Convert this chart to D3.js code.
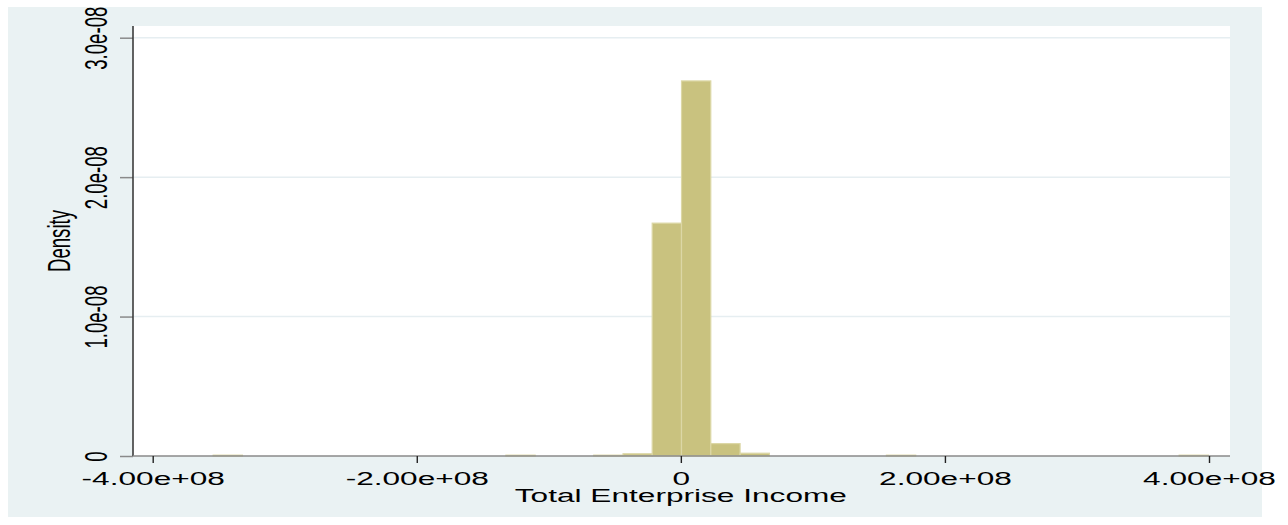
<!DOCTYPE html>
<html>
<head>
<meta charset="utf-8">
<script src="https://cdn.jsdelivr.net/npm/d3@7"></script>
<style>
  html, body { margin: 0; padding: 0; background: #ffffff; }
  svg { display: block; }
  text { font-family: "Liberation Sans", Arial, Helvetica, sans-serif; fill: #000; }
</style>
</head>
<body>
<svg id="chart" width="1288" height="525"></svg>
<script>
// Histogram of total enterprise income: lower bin edges (in 1e6 units), common bin width, densities (in 1e-8 units)
const binLowerM = [-354.2, -332.0, -309.9, -287.7, -265.5, -243.4, -221.2, -199.0, -176.8, -154.7,
                   -132.5, -110.3, -88.2, -66.0, -43.8, -21.7, 0.5, 22.7, 44.9, 67.0,
                   89.2, 111.4, 133.5, 155.7, 177.9, 200.1, 222.2, 244.4, 266.6, 288.7,
                   310.9, 333.1, 355.3, 377.4];
const binWidthM = 22.17;
const densityE8 = [0.006, 0, 0, 0, 0, 0, 0, 0, 0, 0,
                   0.006, 0, 0, 0.006, 0.016, 1.67, 2.69, 0.089, 0.02, 0,
                   0, 0, 0, 0.006, 0, 0, 0, 0, 0, 0,
                   0, 0, 0, 0.006];
const xTicks = [-4e8, -2e8, 0, 2e8, 4e8];
const xTickLabels = ["-4.00e+08", "-2.00e+08", "0", "2.00e+08", "4.00e+08"];
const yTicks = [0, 1e-8, 2e-8, 3e-8];
const yTickLabels = ["0", "1.0e-08", "2.0e-08", "3.0e-08"];
const xTitle = "Total Enterprise Income";
const yTitle = "Density";

const bins = binLowerM.map((lo, i) => ({
  x0: lo * 1e6,
  x1: (lo + binWidthM) * 1e6,
  density: densityE8[i] * 1e-8
}));

const svg = d3.select("#chart");
const plot = { left: 133, right: 1230, top: 26, bottom: 456 };
const stretch = 1.7;     // wide-glyph text rendering
const fontSize = 18.6;

// outer graph region
svg.append("rect")
  .attr("x", 8).attr("y", 7).attr("width", 1254).attr("height", 510)
  .attr("fill", "#eaf2f3");

// inner plot region
svg.append("rect")
  .attr("x", plot.left).attr("y", plot.top)
  .attr("width", plot.right - plot.left).attr("height", plot.bottom - plot.top)
  .attr("fill", "#ffffff");

const x = d3.scaleLinear().domain([-4e8, 4e8]).range([152.7, 1209]);
const y = d3.scaleLinear().domain([0, 3e-8]).range([plot.bottom, 37.7]);

// horizontal grid lines
svg.append("g").selectAll("line")
  .data(yTicks.filter(t => t > 0))
  .join("line")
  .attr("x1", plot.left).attr("x2", plot.right)
  .attr("y1", d => y(d)).attr("y2", d => y(d))
  .attr("stroke", "#e6eef1").attr("stroke-width", 1.5);

// bars
svg.append("g").selectAll("rect")
  .data(bins.filter(b => b.density > 0))
  .join("rect")
  .attr("x", d => x(d.x0))
  .attr("width", d => x(d.x1) - x(d.x0))
  .attr("y", d => y(d.density))
  .attr("height", d => Math.max(y(0) - y(d.density), 0))
  .attr("fill", "#c9c27f")
  .attr("stroke", "#dcd7a6")
  .attr("stroke-width", 1.2);

// y axis with long left ticks, rotated labels
const yAxis = d3.axisLeft(y).tickValues(yTicks).tickSize(13).tickFormat((d, i) => yTickLabels[i]);
const gy = svg.append("g").attr("transform", `translate(${plot.left},0)`).call(yAxis);
gy.select(".domain").remove();
gy.selectAll(".tick line").attr("stroke", "#8a8a8a").attr("stroke-width", 1.5);
gy.selectAll(".tick text").remove();
gy.selectAll(".tick").append("text")
  .attr("transform", `translate(-26,0) scale(${stretch},1) rotate(-90)`)
  .attr("text-anchor", "middle")
  .attr("font-size", fontSize)
  .text((d, i) => yTickLabels[i]);

svg.append("line")
  .attr("x1", plot.left).attr("x2", plot.left)
  .attr("y1", plot.top).attr("y2", plot.bottom)
  .attr("stroke", "#3c3c3c").attr("stroke-width", 1.6);

// x axis
svg.append("line")
  .attr("x1", plot.left).attr("x2", plot.right)
  .attr("y1", plot.bottom).attr("y2", plot.bottom)
  .attr("stroke", "#8a8a8a").attr("stroke-width", 1.6);

const xAxis = d3.axisBottom(x).tickValues(xTicks).tickSize(7).tickFormat((d, i) => xTickLabels[i]);
const gx = svg.append("g").attr("transform", `translate(0,${plot.bottom})`).call(xAxis);
gx.select(".domain").remove();
gx.selectAll(".tick line").attr("stroke", "#222").attr("stroke-width", 1.4);
gx.selectAll(".tick text").remove();
gx.selectAll(".tick").append("text")
  .attr("transform", `translate(0,29) scale(${stretch},1)`)
  .attr("text-anchor", "middle")
  .attr("font-size", fontSize)
  .text((d, i) => xTickLabels[i]);

// axis titles
svg.append("text")
  .attr("transform", `translate(${(x(0))},502) scale(${stretch},1)`)
  .attr("text-anchor", "middle")
  .attr("font-size", fontSize)
  .text(xTitle);

svg.append("text")
  .attr("transform", `translate(70,${(plot.top + plot.bottom) / 2}) scale(${stretch},1) rotate(-90)`)
  .attr("text-anchor", "middle")
  .attr("font-size", fontSize)
  .text(yTitle);
</script>
</body>
</html>
